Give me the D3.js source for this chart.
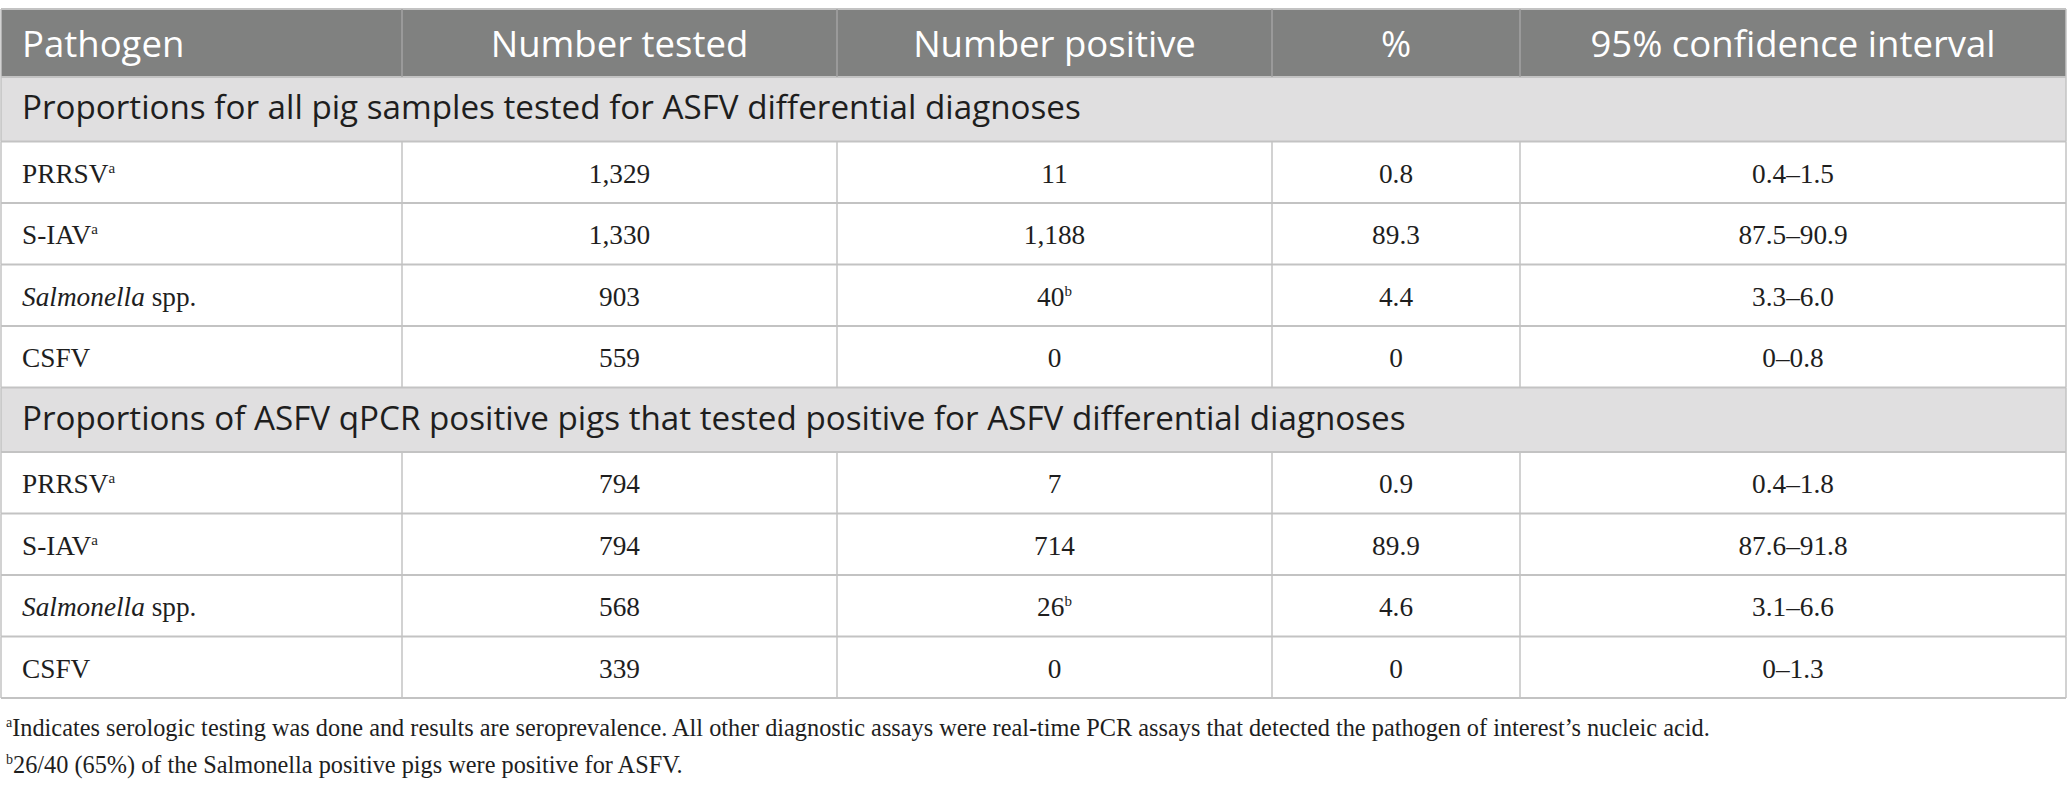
<!DOCTYPE html>
<html><head><meta charset="utf-8">
<script src="https://cdn.jsdelivr.net/npm/d3@7"></script>
<style>
html,body{margin:0;padding:0;background:#fff;}
svg{display:block;}
</style></head>
<body>
<svg id="chart" width="2067" height="792"></svg>
<script>
// ---- data ----
const columns = ["Pathogen", "Number tested", "Number positive", "%", "95% confidence interval"];
const sectionTitles = [
  "Proportions for all pig samples tested for ASFV differential diagnoses",
  "Proportions of ASFV qPCR positive pigs that tested positive for ASFV differential diagnoses"
];
const pathogens = ["PRRSV", "S-IAV", "Salmonella", "CSFV"];
const pathogenSup = ["a", "a", "", ""];
const tested1 = ["1,329", "1,330", "903", "559"];
const positive1 = ["11", "1,188", "40", "0"];
const positiveSup1 = ["", "", "b", ""];
const pct1 = ["0.8", "89.3", "4.4", "0"];
const ci1 = ["0.4–1.5", "87.5–90.9", "3.3–6.0", "0–0.8"];
const tested2 = ["794", "794", "568", "339"];
const positive2 = ["7", "714", "26", "0"];
const positiveSup2 = ["", "", "b", ""];
const pct2 = ["0.9", "89.9", "4.6", "0"];
const ci2 = ["0.4–1.8", "87.6–91.8", "3.1–6.6", "0–1.3"];
const footnotes = [
  {sup: "a", text: "Indicates serologic testing was done and results are seroprevalence. All other diagnostic assays were real-time PCR assays that detected the pathogen of interest’s nucleic acid."},
  {sup: "b", text: "26/40 (65%) of the Salmonella positive pigs were positive for ASFV."}
];

// ---- layout ----
const colEdges = [1, 402, 837, 1272, 1520, 2066];
const tableTop = 9, headerH = 68, sectionH = 64.5, rowH = 61.5;
const lineColor = "#c3c3c3";
const headerBg = "#808180", sectionBg = "#e0dfe0";
const sans = "'Open Sans', 'Noto Sans', sans-serif";
const serif = "'Liberation Serif', 'Times New Roman', serif";

// build row list
const rows = [{type: "header"}];
const groups = [[tested1, positive1, positiveSup1, pct1, ci1], [tested2, positive2, positiveSup2, pct2, ci2]];
groups.forEach((g, gi) => {
  rows.push({type: "section", text: sectionTitles[gi]});
  pathogens.forEach((p, i) => {
    rows.push({type: "data", name: p, nameSup: pathogenSup[i], italic: p === "Salmonella",
      cells: [g[0][i], g[1][i], g[3][i], g[4][i]], sups: ["", g[2][i], "", ""]});
  });
});
let yy = tableTop;
rows.forEach(r => {
  r.h = r.type === "header" ? headerH : r.type === "section" ? sectionH : rowH;
  r.y = yy; yy += r.h;
});
const tableBottom = yy;

const svg = d3.select("#chart");
const colCenter = i => (colEdges[i] + colEdges[i + 1]) / 2;

// backgrounds
svg.selectAll("rect.bg").data(rows.filter(r => r.type !== "data")).join("rect")
  .attr("class", "bg")
  .attr("x", colEdges[0]).attr("width", colEdges[5] - colEdges[0])
  .attr("y", d => d.y).attr("height", d => d.h)
  .attr("fill", d => d.type === "header" ? headerBg : sectionBg);

// horizontal lines
const hLines = rows.map(r => r.y).concat([tableBottom]);
svg.selectAll("line.h").data(hLines).join("line")
  .attr("class", "h")
  .attr("x1", colEdges[0]).attr("x2", colEdges[5])
  .attr("y1", d => d).attr("y2", d => d)
  .attr("stroke", lineColor).attr("stroke-width", 2);

// vertical lines (header and data rows)
const vSegs = [];
rows.forEach(r => {
  if (r.type === "section") {
    vSegs.push({x: colEdges[0], y1: r.y, y2: r.y + r.h, c: lineColor});
    vSegs.push({x: colEdges[5], y1: r.y, y2: r.y + r.h, c: lineColor});
  } else {
    colEdges.forEach((x, i) => vSegs.push({x, y1: r.y, y2: r.y + r.h,
      c: r.type === "header" && i > 0 && i < 5 ? "#a3a3a3" : lineColor}));
  }
});
svg.selectAll("line.v").data(vSegs).join("line")
  .attr("class", "v")
  .attr("x1", d => d.x).attr("x2", d => d.x)
  .attr("y1", d => d.y1).attr("y2", d => d.y2)
  .attr("stroke", d => d.c).attr("stroke-width", 1.5);

// header text
svg.selectAll("text.head").data(columns).join("text")
  .attr("class", "head")
  .attr("x", (d, i) => i === 0 ? 22 : colCenter(i))
  .attr("y", tableTop + 48)
  .attr("text-anchor", (d, i) => i === 0 ? "start" : "middle")
  .attr("font-family", sans).attr("font-size", 36.5).attr("fill", "#ffffff")
  .text(d => d);

// section text
svg.selectAll("text.sec").data(rows.filter(r => r.type === "section")).join("text")
  .attr("class", "sec")
  .attr("x", 22).attr("y", d => d.y + 42)
  .attr("font-family", sans).attr("font-size", 33.2).attr("fill", "#1e1e1e")
  .text(d => d.text);

// data rows
const dataRows = rows.filter(r => r.type === "data");
const names = svg.selectAll("text.name").data(dataRows).join("text")
  .attr("class", "name")
  .attr("x", 22).attr("y", d => d.y + 41)
  .attr("font-family", serif).attr("font-size", 27.3).attr("fill", "#1e1e1e");
names.each(function (d) {
  const t = d3.select(this);
  t.append("tspan").attr("font-style", d.italic ? "italic" : "normal").text(d.name);
  if (d.italic) t.append("tspan").text(" spp.");
  if (d.nameSup) t.append("tspan").attr("font-size", 15).attr("dy", -10).text(d.nameSup);
});

const cellData = [];
dataRows.forEach(r => r.cells.forEach((c, i) => cellData.push({r, v: c, sup: r.sups[i], col: i + 1})));
const cells = svg.selectAll("text.cell").data(cellData).join("text")
  .attr("class", "cell")
  .attr("x", d => colCenter(d.col)).attr("y", d => d.r.y + 41)
  .attr("text-anchor", "middle")
  .attr("font-family", serif).attr("font-size", 27.3).attr("fill", "#1e1e1e");
cells.each(function (d) {
  const t = d3.select(this);
  t.append("tspan").text(d.v);
  if (d.sup) t.append("tspan").attr("font-size", 15).attr("dy", -10).text(d.sup);
});

// footnotes
const fn = svg.selectAll("text.fn").data(footnotes).join("text")
  .attr("class", "fn")
  .attr("x", 6).attr("y", (d, i) => 736 + i * 37)
  .attr("font-family", serif).attr("font-size", 24.3).attr("fill", "#1e1e1e");
fn.each(function (d) {
  const t = d3.select(this);
  t.append("tspan").attr("font-size", 14).attr("dy", -9).text(d.sup);
  t.append("tspan").attr("dy", 9).text(d.text);
});
</script>
</body></html>
